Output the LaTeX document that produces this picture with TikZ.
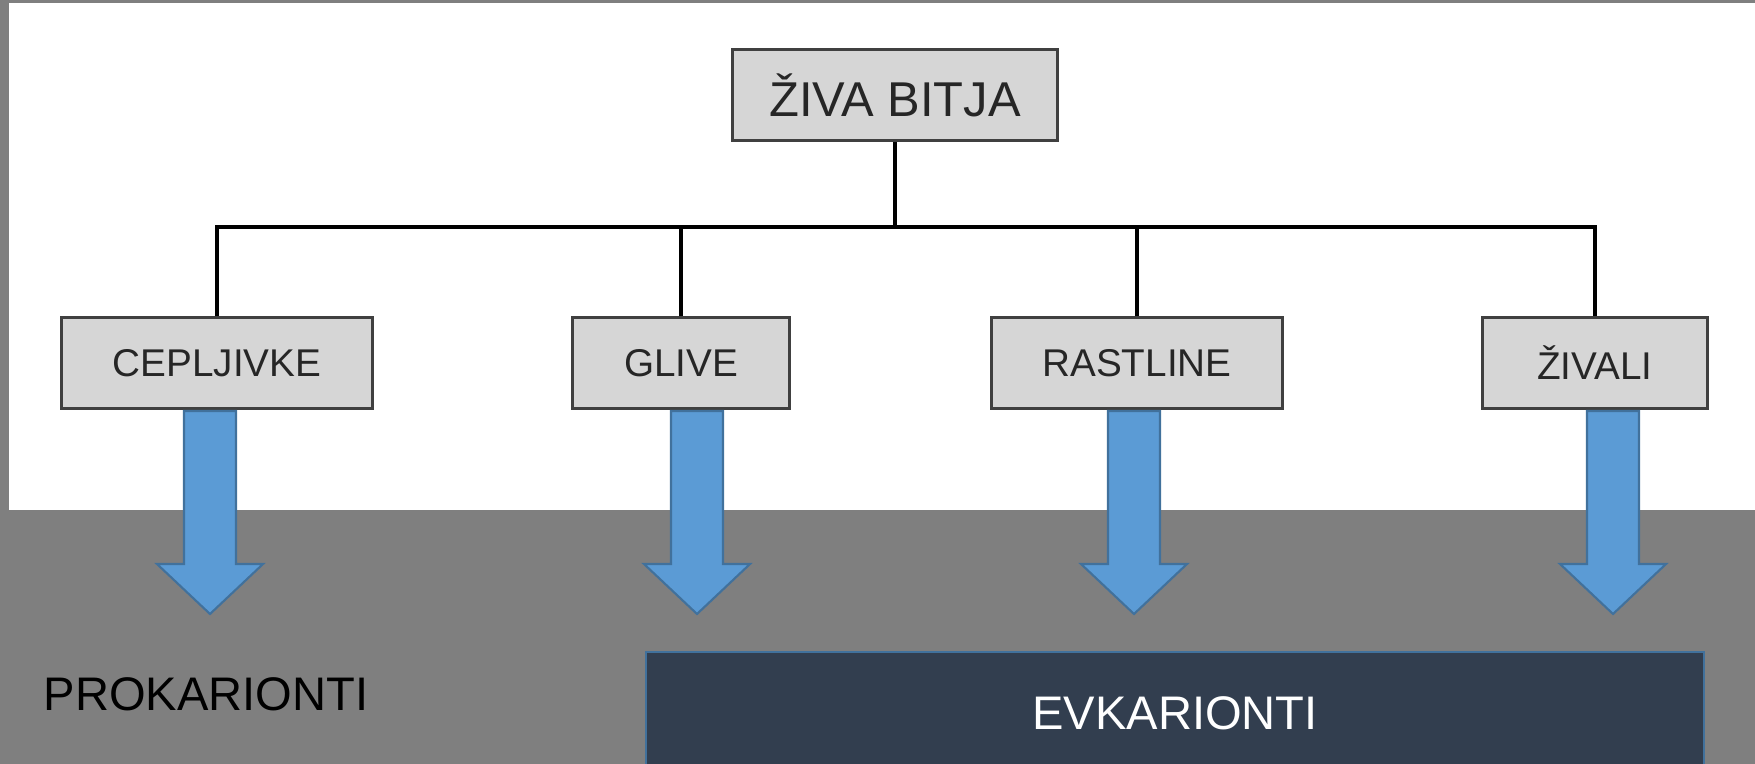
\documentclass[tikz,border=0pt]{standalone}
\usepackage{fontspec}
\setmainfont{Liberation Sans}
\definecolor{ozadje}{HTML}{7F7F7F}
\definecolor{skatla}{HTML}{D6D6D6}
\definecolor{rob}{HTML}{404040}
\definecolor{puscica}{HTML}{5B9BD5}
\definecolor{puscicarob}{HTML}{41719C}
\definecolor{temna}{HTML}{323E4F}
\begin{document}
\begin{tikzpicture}[x=0.01cm,y=-0.01cm,
	skatla/.style={draw=rob,fill=skatla,line width=0.85pt,inner sep=0pt,minimum height=0.9cm,text depth=0pt,text=black!85,font=\fontsize{11pt}{13pt}\selectfont},
	veja/.style={line width=1.1pt,black}]
	\tikzset{pusc/.pic={
	\draw[fill=puscica,draw=puscicarob,line width=0.6pt](-26,0)--(-26,153)--(-53,153)--(0,203)--(53,153)--(26,153)--(26,0)--cycle;
	}}
	\useasboundingbox(0,0)rectangle(1755,764);
	\fill[ozadje](0,0)rectangle(1755,764);
	\fill[white](9,3)rectangle(1755,510);
	\node[skatla,minimum width=3.25cm,minimum height=0.91cm,font=\fontsize{13.9pt}{16pt}\selectfont](bitja)at(895,95){ŽIVA BITJA};
	\node[skatla,minimum width=3.1cm](ceplj)at(217,363){CEPLJIVKE};
	\node[skatla,minimum width=2.16cm](glive)at(681,363){GLIVE};
	\node[skatla,minimum width=2.91cm](rastl)at(1137,363){RASTLINE};
	\node[skatla,minimum width=2.24cm](zivali)at(1595,363){ŽIVALI};
	\coordinate(veje)at(889,227);
	\draw[veja](bitja.south)--(bitja.south|-veje);
	\draw[veja](ceplj.north)|-(zivali.north|-veje)--(zivali.north);
	\draw[veja](glive.north)--(glive.north|-veje);
	\draw[veja](rastl.north)--(rastl.north|-veje);
	\foreach \x in {210,697,1134,1613}\path(\x,411)pic{pusc};
	\node[font=\fontsize{13.4pt}{16pt}\selectfont](prok)at(206,694){PROKARIONTI};
	\node[draw=puscicarob,fill=temna,line width=0.6pt,minimum width=10.58cm,minimum height=1.22cm,text=white,font=\fontsize{13.4pt}{16pt}\selectfont](evk)at(1175,713){EVKARIONTI};
\end{tikzpicture}
\end{document}
